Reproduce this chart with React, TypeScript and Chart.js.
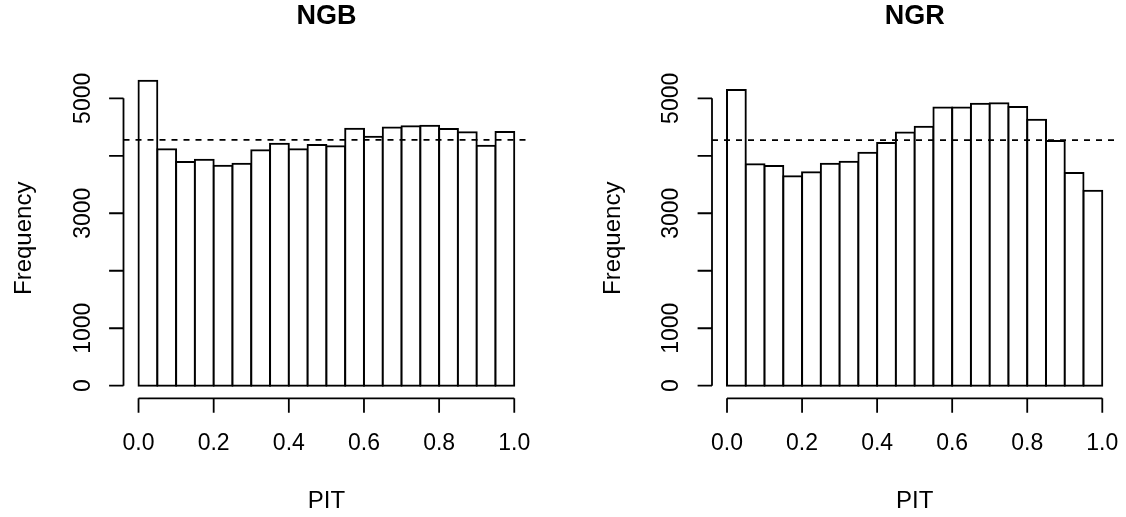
import React, { useEffect, useRef } from "react";
import { Chart, registerables } from "chart.js";

Chart.register(...registerables);

// Histogram bin breaks (PIT)
const breaks = [0, 0.05, 0.1, 0.15, 0.2, 0.25, 0.3, 0.35, 0.4, 0.45, 0.5, 0.55, 0.6, 0.65, 0.7, 0.75, 0.8, 0.85, 0.9, 0.95, 1.0];

// Counts per bin
const ngbCounts = [5307, 4113, 3892, 3933, 3828, 3863, 4095, 4211, 4113, 4188, 4165, 4472, 4333, 4490, 4513, 4524, 4466, 4408, 4176, 4414];
const ngrCounts = [5145, 3852, 3823, 3643, 3712, 3863, 3898, 4054, 4223, 4403, 4507, 4838, 4838, 4907, 4913, 4849, 4629, 4258, 3701, 3393];

// Axis ticks
const xTicks = [0, 0.2, 0.4, 0.6, 0.8, 1.0];
const xTickLabels = ["0.0", "0.2", "0.4", "0.6", "0.8", "1.0"];
const yTicks = [0, 1000, 2000, 3000, 4000, 5000];
const yTickLabels = ["0", "1000", "", "3000", "", "5000"];

const titles = ["NGB", "NGR"];
const xTitle = "PIT";
const yTitle = "Frequency";

const FONT = '"Liberation Sans", Arial, Helvetica, sans-serif';

const rAxesPlugin = {
  id: "rAxes",
  afterDatasetsDraw(chart: any, _args: any, opts: any) {
    const { ctx, chartArea: a, scales } = chart;
    const x = scales.x;
    const y = scales.y;
    const vals: number[] = chart.data.datasets[0].data.map((d: any) => d.y);
    const mean = vals.reduce((s, v) => s + v, 0) / vals.length;
    ctx.save();
    ctx.strokeStyle = "#000";
    ctx.fillStyle = "#000";
    ctx.lineWidth = 1.8;

    // dashed reference line (expected count)
    ctx.setLineDash([6, 6]);
    ctx.beginPath();
    const ym = y.getPixelForValue(mean);
    ctx.moveTo(a.left, ym);
    ctx.lineTo(a.right, ym);
    ctx.stroke();
    ctx.setLineDash([]);

    const tick = 14.4;
    // x axis
    const yb = a.bottom;
    ctx.beginPath();
    ctx.moveTo(x.getPixelForValue(xTicks[0]), yb);
    ctx.lineTo(x.getPixelForValue(xTicks[xTicks.length - 1]), yb);
    xTicks.forEach((t) => {
      const px = x.getPixelForValue(t);
      ctx.moveTo(px, yb);
      ctx.lineTo(px, yb + tick);
    });
    ctx.stroke();
    ctx.font = `23px ${FONT}`;
    ctx.textAlign = "center";
    ctx.textBaseline = "alphabetic";
    xTicks.forEach((t, i) => {
      ctx.fillText(xTickLabels[i], x.getPixelForValue(t), 450);
    });

    // y axis
    const xl = a.left;
    ctx.beginPath();
    ctx.moveTo(xl, y.getPixelForValue(yTicks[0]));
    ctx.lineTo(xl, y.getPixelForValue(yTicks[yTicks.length - 1]));
    yTicks.forEach((t) => {
      const py = y.getPixelForValue(t);
      ctx.moveTo(xl, py);
      ctx.lineTo(xl - tick, py);
    });
    ctx.stroke();
    yTicks.forEach((t, i) => {
      if (!yTickLabels[i]) return;
      ctx.save();
      ctx.translate(xl - 34, y.getPixelForValue(t));
      ctx.rotate(-Math.PI / 2);
      ctx.fillText(yTickLabels[i], 0, 0);
      ctx.restore();
    });

    // axis titles
    const cx = (a.left + a.right) / 2;
    ctx.font = `24px ${FONT}`;
    ctx.fillText(xTitle, cx, 508);
    ctx.save();
    ctx.translate(xl - 92.5, (a.top + a.bottom) / 2);
    ctx.rotate(-Math.PI / 2);
    ctx.fillText(yTitle, 0, 0);
    ctx.restore();

    // main title
    ctx.font = `bold 27px ${FONT}`;
    ctx.fillText(opts.title, cx, 24);
    ctx.restore();
  },
};

function Panel({ title, counts, left, padLeft, padRight }: { title: string; counts: number[]; left: number; padLeft: number; padRight: number }) {
  const ref = useRef<HTMLCanvasElement | null>(null);
  useEffect(() => {
    if (!ref.current) return;
    const data = counts.map((c, i) => ({ x: (breaks[i] + breaks[i + 1]) / 2, y: c }));
    const chart = new Chart(ref.current, {
      type: "bar",
      data: {
        datasets: [
          {
            data,
            backgroundColor: "#ffffff",
            borderColor: "#000000",
            borderWidth: 2,
            borderSkipped: false,
            inflateAmount: 1,
            barPercentage: 1,
            categoryPercentage: 1,
          } as any,
        ],
      },
      options: {
        responsive: false,
        animation: false,
        devicePixelRatio: 1,
        layout: { padding: { left: padLeft, right: padRight, top: 78.3, bottom: 517 - 398.3 } },
        scales: {
          x: { type: "linear", min: -0.04, max: 1.04, offset: false, display: false },
          y: { type: "linear", min: -219, max: 5348, display: false },
        },
        plugins: {
          legend: { display: false },
          tooltip: { enabled: false },
          rAxes: { title },
        } as any,
      },
      plugins: [rAxesPlugin],
    });
    return () => chart.destroy();
  }, [title, counts, padLeft, padRight]);
  return (
    <canvas
      ref={ref}
      width={563}
      height={517}
      style={{ position: "absolute", left, top: 0, width: 563, height: 517 }}
    />
  );
}

export default function App() {
  return (
    <div style={{ position: "absolute", left: 0, top: 0, width: 1126, height: 517, background: "#fff", overflow: "hidden" }}>
      <Panel title={titles[0]} counts={ngbCounts} left={0} padLeft={123.5} padRight={563 - 529.3} />
      <Panel title={titles[1]} counts={ngrCounts} left={563} padLeft={712 - 563} padRight={1126 - 1117.3} />
    </div>
  );
}
